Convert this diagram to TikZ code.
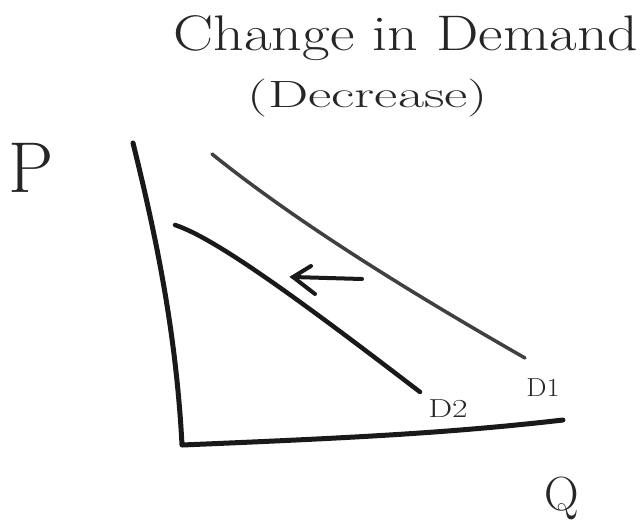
\documentclass[tikz,border=0pt]{standalone}
\usepackage{graphicx}
\begin{document}
\begin{tikzpicture}[x=1pt,y=-1pt,
  axis/.style={line width=5pt,black!90,line cap=round,line join=round},
  curveone/.style={line width=3.5pt,black!75,line cap=round},
  curvetwo/.style={line width=4.5pt,black!90,line cap=round},
  shiftarrow/.style={line width=4pt,black!90,line cap=round,line join=miter},
  lbl/.style={inner sep=0pt,text=black!85,font=\fontsize{#1}{#1}\selectfont}]
\useasboundingbox[fill=white] (0,0) rectangle (642,520);
% title
\node[lbl=50,anchor=base] (title) at (406,50) {\scalebox{1.2}[1]{Change in Demand}};
\node[lbl=38,anchor=base] (sub) at (368,107) {\scalebox{1.5}[1]{(Decrease)}};
% axes
\coordinate (top) at (133,143);
\coordinate (origin) at (182,445);
\coordinate (xend) at (563,420);
\draw[axis] (top) .. controls (155,232) and (176,330) .. (origin)
  .. controls (350,438) and (450,433) .. (xend);
\node[lbl=72] (P) at (31,168) {P};
\node[lbl=48] (Q) at (562,498) {Q};
% demand curves
\coordinate (d1a) at (212,154);
\coordinate (d1b) at (525,358);
\coordinate (d2a) at (175,225);
\coordinate (d2b) at (420,392);
\draw[curveone] (d1a) .. controls (300,225) and (420,298) .. (d1b);
\draw[curvetwo] (d2a) .. controls (215,238) and (300,300) .. (d2b);
\node[lbl=26] (D1) at (543,388) {\scalebox{1.1}[1]{D1}};
\node[lbl=26] (D2) at (448,409) {\scalebox{1.3}[1]{D2}};
% shift arrow
\coordinate (tail) at (362,279);
\coordinate (tip) at (293,277);
\coordinate (barbup) at (311,266);
\coordinate (barbdown) at (315,294);
\draw[shiftarrow] (tail) -- (tip);
\draw[shiftarrow] (barbup) -- (tip) -- (barbdown);
\end{tikzpicture}
\end{document}
